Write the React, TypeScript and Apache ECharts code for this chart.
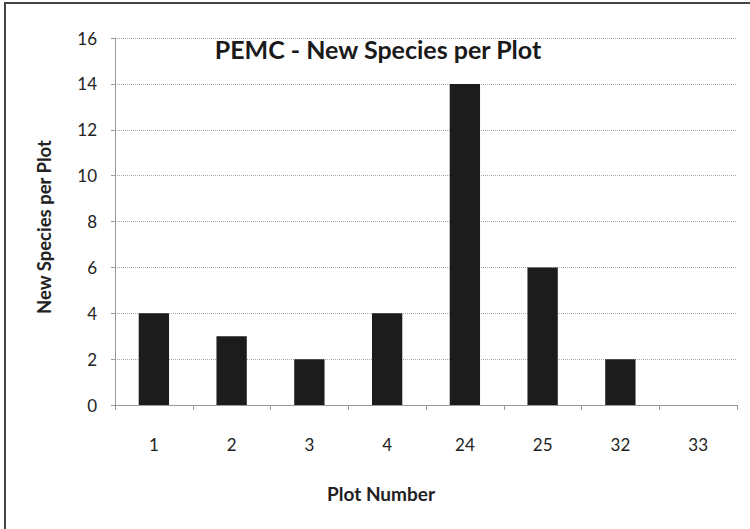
import React, { useEffect, useRef } from "react";
import * as echarts from "echarts";

const categories = ["1", "2", "3", "4", "24", "25", "32", "33"];
const values = [4, 3, 2, 4, 14, 6, 2, 0];
const titleText = "PEMC - New Species per Plot";
const xName = "Plot Number";
const yName = "New Species per Plot";

export default function App() {
  const ref = useRef<HTMLDivElement>(null);
  useEffect(() => {
    if (!ref.current) return;
    const chart = echarts.init(ref.current, undefined, { renderer: "svg" });
    const font = "Lato, 'Open Sans', sans-serif";
    chart.setOption({
      animation: false,
      backgroundColor: "#ffffff",
      textStyle: { fontFamily: font },
      title: {
        text: titleText,
        left: 373,
        textAlign: "center",
        top: 31,
        textStyle: { fontFamily: font, fontSize: 25, fontWeight: "bold", color: "#1a1a1a" },
      },
      graphic: [
        {
          type: "rect",
          shape: { x: 5, y: 3, width: 760, height: 540 },
          style: { fill: "none", stroke: "#444", lineWidth: 2 },
          silent: true,
        },
      ],
      grid: { left: 115, right: 13, top: 38, bottom: 124, containLabel: false },
      xAxis: {
        type: "category",
        data: categories,
        name: xName,
        nameLocation: "middle",
        nameGap: 79,
        nameTextStyle: {
          fontFamily: font,
          fontSize: 19,
          fontWeight: "bold",
          color: "#222",
          padding: [0, 90, 0, 0],
        },
        axisLine: { show: true, lineStyle: { color: "#999", width: 1 } },
        axisTick: { show: true, alignWithLabel: false, length: 5, lineStyle: { color: "#999" } },
        axisLabel: { margin: 31, fontSize: 17, color: "#222", fontFamily: font },
      },
      yAxis: {
        type: "value",
        min: 0,
        max: 16,
        interval: 2,
        name: yName,
        nameLocation: "middle",
        nameGap: 62,
        nameTextStyle: {
          fontFamily: font,
          fontSize: 18.5,
          fontWeight: "bold",
          color: "#222",
          padding: [0, 11, 0, 0],
        },
        axisLine: { show: true, lineStyle: { color: "#999", width: 1 } },
        axisTick: { show: true, length: 4, lineStyle: { color: "#999" } },
        axisLabel: { margin: 18, fontSize: 17, color: "#222", fontFamily: font },
        splitLine: { show: true, lineStyle: { color: "#aaa", type: "dotted", width: 1 } },
      },
      series: [
        {
          type: "bar",
          data: values,
          barWidth: "39%",
          itemStyle: { color: "#1c1c1c" },
        },
      ],
    });
    return () => chart.dispose();
  }, []);
  return (
    <div
      ref={ref}
      style={{ position: "fixed", left: 0, top: 0, width: 750, height: 529 }}
    />
  );
}
